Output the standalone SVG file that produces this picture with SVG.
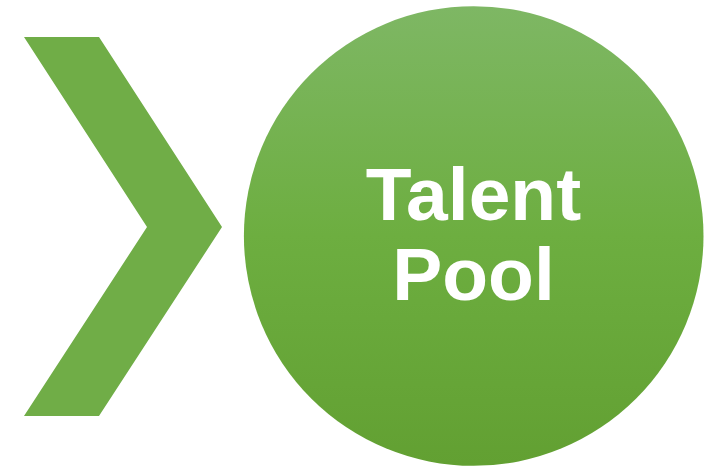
<svg xmlns="http://www.w3.org/2000/svg" width="715" height="467" viewBox="0 0 715 467">
  <defs>
    <linearGradient id="circGrad" x1="0" y1="0" x2="0" y2="1">
      <stop offset="0" stop-color="#7EB764"/>
      <stop offset="0.5" stop-color="#6DAE40"/>
      <stop offset="1" stop-color="#62A032"/>
    </linearGradient>
  </defs>
  <style>
    .lbl { font-family: "Liberation Sans", Arial, sans-serif; font-weight: bold; font-size: 75px; fill: #FFFFFF; text-anchor: middle; }
  </style>
  <rect width="715" height="467" fill="#FFFFFF"/>
  <g id="chevron">
    <polygon points="24,37 99,37 222,227 99,416 24,416 147,227" fill="#70AD47"/>
  </g>
  <g id="talent-pool">
    <circle cx="473.7" cy="236" r="229.8" fill="url(#circGrad)"/>
    <text class="lbl" x="473.5" y="220">Talent</text>
    <text class="lbl" x="473.5" y="300">Pool</text>
  </g>
  <g id="connectors"/>
</svg>
